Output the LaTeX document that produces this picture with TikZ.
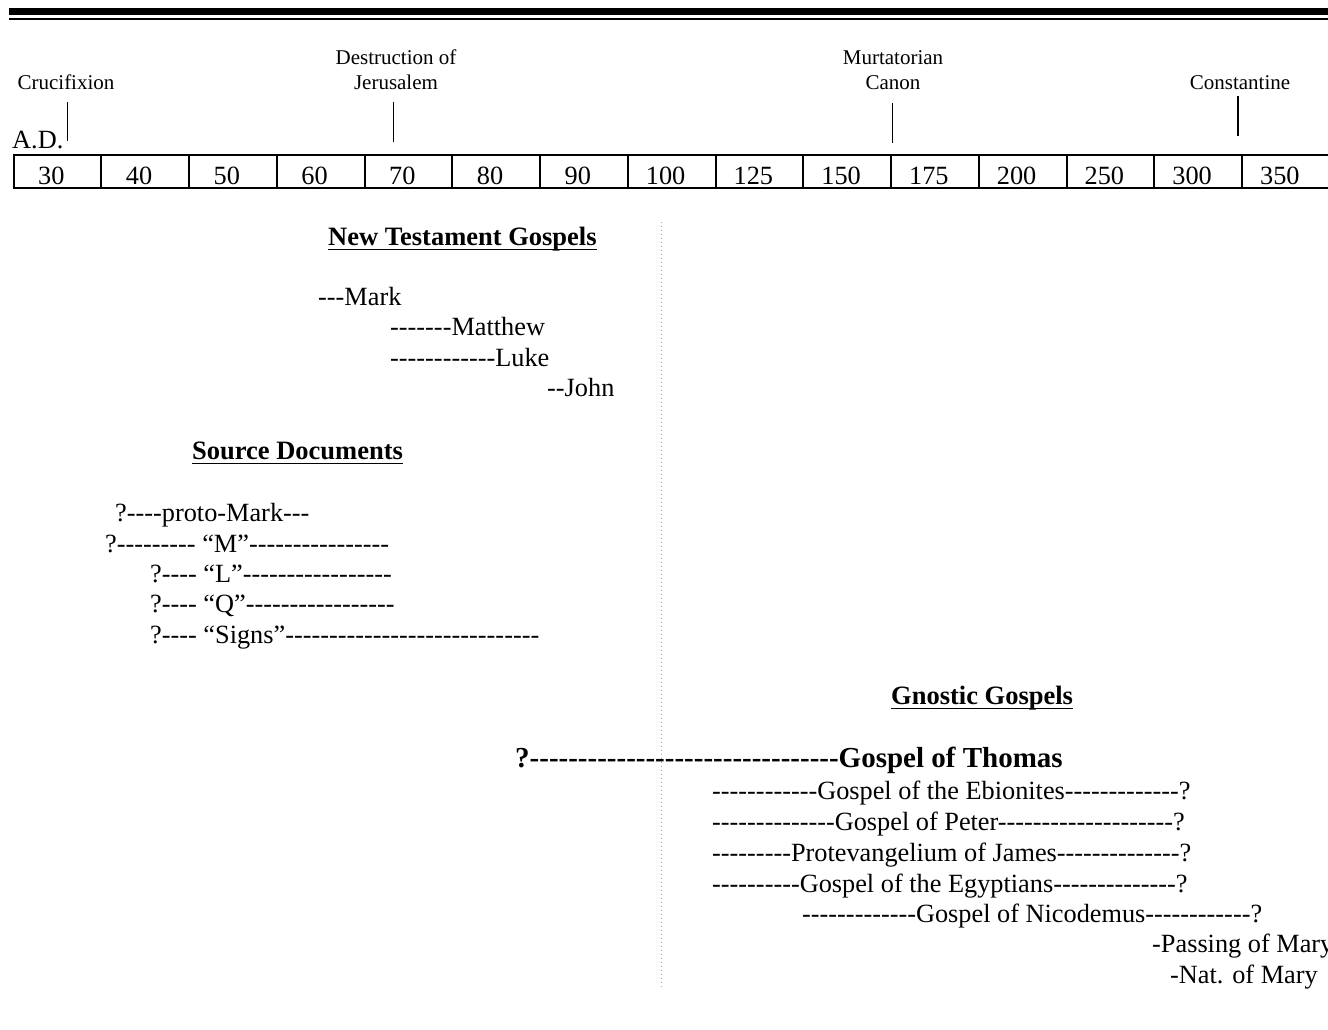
\documentclass[tikz,border=0pt]{standalone}
\usepackage{fontspec}
\setmainfont[Ligatures=TeXOff]{Liberation Serif}

\tikzset{
  txt/.style={anchor=base west, inner sep=0pt, font=\fontsize{26.3pt}{30pt}\selectfont},
  hdr/.style={anchor=base west, inner sep=0pt, font=\fontsize{26.5pt}{30pt}\selectfont\bfseries},
  evt/.style={anchor=base, inner sep=0pt, align=center, font=\fontsize{21pt}{25pt}\selectfont},
  yr/.style={draw, line width=2pt, minimum width=87.75pt, minimum height=33pt, inner sep=0pt},
  yrtxt/.style={anchor=base, inner sep=0pt, font=\fontsize{26.3pt}{30pt}\selectfont},
  tick/.style={line width=1.5pt},
  uline/.style={line width=1.8pt},
}

\begin{document}
\begin{tikzpicture}[x=1pt, y=-1pt]
    \useasboundingbox (0,0) rectangle (1328,1030);

    % double rule at the top
    \draw[line width=7pt] (9,11.5) -- (1328,11.5);
    \draw[line width=2pt] (9,19.5) -- (1328,19.5);

    % time line
    \foreach \n [count=\i] in {30,40,50,60,70,80,90,100,125,150,175,200,250,300,350} {
        \node[yr] (y\n) at ({13.5+87.75*(\i-0.5)},171.5) {};
        \node[yrtxt] (t\n) at ([xshift=-6pt,yshift=-13.5pt]y\n.center) {\n};
    }
    \node[txt] (ad) at (12,149) {A.D.};

    \node[evt] (cruc) at (66,90) {Crucifixion};
    \node[evt] (jer) at (396,90) {Destruction of\\Jerusalem};
    \node[evt] (mur) at (893,90) {Murtatorian\\Canon};
    \node[evt] (const) at (1240,90) {Constantine};
    \draw[tick] (67.5,102) -- (67.5,141);
    \draw[tick] (393.5,102) -- (393.5,142);
    \draw[tick] (892.5,103) -- (892.5,143);
    \draw[tick] (1238,96) -- (1238,136);

    % divider
    \draw[gray!70, line width=1.2pt, dash pattern=on 1.2pt off 2.8pt] (661.5,222) -- (661.5,988);

    % new testament
    \node[hdr] (ntg) at (328,245) {New Testament Gospels};
    \draw[uline] ([yshift=-4.5pt]ntg.base west) -- ([yshift=-4.5pt]ntg.base east);
    \node[txt] (mark) at (318,305) {---Mark};
    \node[txt] (matt) at (390,335.5) {-------Matthew};
    \node[txt] (luke) at (390,366) {------------Luke};
    \node[txt] (john) at (547,396) {--John};

    % sources
    \node[hdr] (src) at (192,459) {Source Documents};
    \draw[uline] ([yshift=-4.5pt]src.base west) -- ([yshift=-4.5pt]src.base east);
    \node[txt] (proto) at (115,521) {?----proto-Mark---};
    \node[txt] (m) at (105,552) {?--------- “M”----------------};
    \node[txt] (l) at (150,582) {?---- “L”-----------------};
    \node[txt] (q) at (150,612.5) {?---- “Q”-----------------};
    \node[txt] (signs) at (150,643) {?---- “Signs”-----------------------------};

    % gnostic
    \node[hdr] (gno) at (891,704) {Gnostic Gospels};
    \draw[uline] ([yshift=-4.5pt]gno.base west) -- ([yshift=-4.5pt]gno.base east);
    \node[txt, font=\fontsize{29pt}{32pt}\selectfont\bfseries] (thomas) at (515,767)
        {?--------------------------------Gospel of Thomas};
    \node[txt] (ebion) at (712,799) {------------Gospel of the Ebionites-------------?};
    \node[txt] (peter) at (712,830) {--------------Gospel of Peter--------------------?};
    \node[txt] (james) at (712,861) {---------Protevangelium of James--------------?};
    \node[txt] (egypt) at (712,892) {----------Gospel of the Egyptians--------------?};
    \node[txt] (nico) at (802,922) {-------------Gospel of Nicodemus------------?};
    \node[txt] (pass) at (1152,952) {-Passing of Mary};
    \node[txt] (nat) at (1170,983) {-Nat. of Mary};
\end{tikzpicture}
\end{document}
